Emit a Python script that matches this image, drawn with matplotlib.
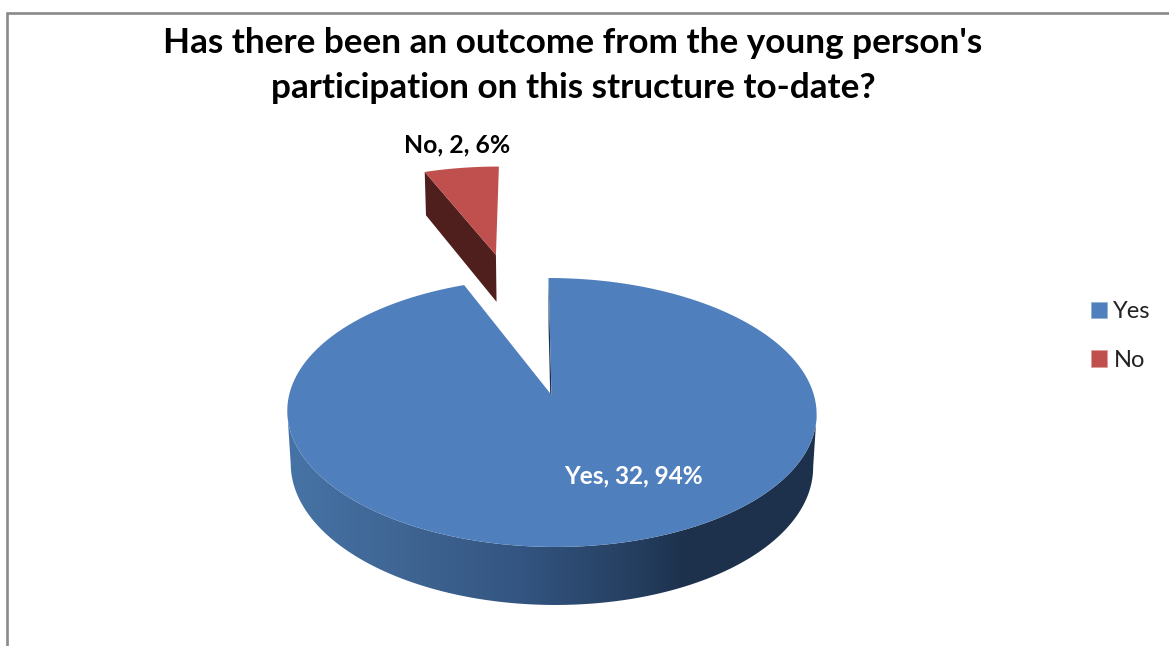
"""Exploded 3D-style pie of participation outcomes, drawn on a pixel-sized axes."""
import matplotlib

matplotlib.use("Agg")
import matplotlib.pyplot as plt
import numpy as np
from matplotlib.colors import LinearSegmentedColormap
from matplotlib.patches import Patch, Polygon

TITLE = "Has there been an outcome from the young person's\nparticipation on this structure to-date?"
categories = ["Yes", "No"]
counts = [32, 2]

BLUE = "#4f7fbc"
RED = "#c0504d"
RED_SIDE = "#4f1f1d"
BLUE_SIDE = "#1d314c"
BORDER = "#8a8a8a"

# camera for the tilted disc
CX, CY = 551.5, 395.0
RX, RY = 262.4, 132.2
SHEAR = -3.4
PERSP = 0.13
DEPTH, DEPTH_PERSP = 53.2, 0.013
EXPLODE = 1.25

rim_cmap = LinearSegmentedColormap.from_list(
    "rim",
    [(0.0, "#4673a6"), (0.22, "#3f6593"), (0.45, "#335480"), (0.68, "#233c5c"), (0.75, BLUE_SIDE), (1.0, BLUE_SIDE)],
)


def project(u, v, z=0.0):
    """Disc coordinates to pixels; v points away from the viewer, z runs down."""
    u, v = np.asarray(u, dtype=float), np.asarray(v, dtype=float)
    w = 1 + PERSP * v + DEPTH_PERSP * z
    return CX + (RX * u + SHEAR * v) / w, CY - (RY * v - DEPTH * z) / w


def wedge_outline(start, stop, shift=0.0):
    """Apex plus rim of a slice, angles clockwise from 12 o'clock."""
    mid = (start + stop) / 2
    off_u, off_v = shift * np.sin(mid), shift * np.cos(mid)
    t = np.linspace(start, stop, 160)
    u = np.r_[off_u, off_u + np.sin(t)]
    v = np.r_[off_v, off_v + np.cos(t)]
    return u, v


total = sum(counts)
yes_stop = 2 * np.pi * counts[0] / total
no_stop = 2 * np.pi

fig = plt.figure(figsize=(11.69, 6.46), dpi=100)
ax = fig.add_axes([0, 0, 1, 1])
plt.rcParams["font.family"] = ["Lato", "DejaVu Sans"]

# front rim of the big slice: a horizontal gradient clipped to the visible band,
# from the widest point of the top and bottom ellipses through the front
t = np.linspace(0, 2 * np.pi, 1441)
x0, y0 = project(np.sin(t), np.cos(t))
x1, y1 = project(np.sin(t), np.cos(t), 1.0)
rim_x = np.r_[x1[np.argmax(x1):np.argmin(x1) + 1], x0[np.argmax(x0):np.argmin(x0) + 1][::-1]]
rim_y = np.r_[y1[np.argmax(x1):np.argmin(x1) + 1], y0[np.argmax(x0):np.argmin(x0) + 1][::-1]]
rim = Polygon(np.c_[rim_x, rim_y], closed=True, facecolor="none", edgecolor="none", transform=ax.transData)
ax.add_patch(rim)
img = ax.imshow(
    np.linspace(0, 1, 512)[None, :],
    cmap=rim_cmap,
    extent=(rim_x.min(), rim_x.max(), rim_y.max(), rim_y.min()),
    aspect="auto",
    interpolation="bilinear",
    zorder=2,
)
img.set_clip_path(rim)

ax.set_xlim(0, 1169)
ax.set_ylim(646, 0)
ax.axis("off")

# chart frame, cropped on the right and at the bottom
ax.plot([7, 7, 1169], [645, 13, 13], color=BORDER, lw=1.9, solid_joinstyle="miter", zorder=1)

# cut face beside the gap
xa, ya = project([0, 0, 0, 0], [0, 1, 1, 0], np.array([0, 0, 1, 1]))
ax.fill(xa, ya, color=BLUE_SIDE, lw=0, zorder=2)

# big slice top
u, v = wedge_outline(0.0, yes_stop)
xt, yt = project(u, v)
ax.fill(xt, yt, color=BLUE, lw=0, zorder=3)

# small exploded slice: dark cut face, then its top
u, v = wedge_outline(yes_stop, no_stop, EXPLODE)
xr, yr = project(u, v)
xb, yb = project(u[:2], v[:2], 1.0)
ax.fill([xr[0], xr[1], xb[1], xb[0]], [yr[0], yr[1], yb[1], yb[0]], color=RED_SIDE, lw=0, zorder=3)
ax.fill(xr, yr, color=RED, lw=0, zorder=4)

ax.text(573, 65.5, TITLE, ha="center", va="center", fontsize=25.25, fontweight="bold",
        color="black", linespacing=1.5, zorder=5)


def label(i):
    return f"{categories[i]}, {counts[i]}, {100 * counts[i] / total:.0f}%"


ax.text(457, 145, label(1), ha="center", va="center", fontsize=17.8, fontweight="bold", color="black", zorder=5)
ax.text(634, 476, label(0), ha="center", va="center", fontsize=17.6, fontweight="bold", color="white", zorder=5)

handles = [Patch(facecolor=BLUE, edgecolor="#8fb0d8", lw=0.5), Patch(facecolor=RED, edgecolor="#dc9c9a", lw=0.5)]
ax.legend(handles, categories, loc="upper left", bbox_to_anchor=(1091, 301), bbox_transform=ax.transData,
          frameon=False, fontsize=17, handlelength=0.68, handleheight=0.68, handletextpad=0.27,
          labelspacing=1.18, borderpad=0, borderaxespad=0, labelcolor="#222222")

fig.savefig("out.png", dpi=100, facecolor="white")
plt.close(fig)
